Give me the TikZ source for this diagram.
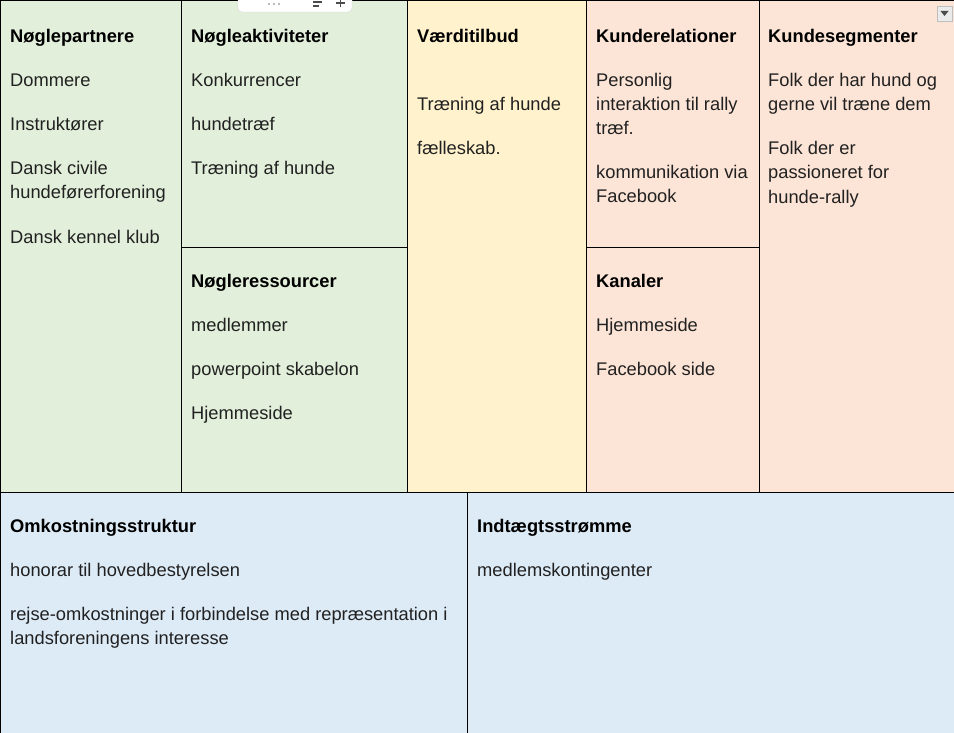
\documentclass[tikz,border=0pt]{standalone}
\usepackage{fontspec}
\setmainfont{Liberation Sans}
\definecolor{cgreen}{RGB}{226,239,218}
\definecolor{cyellow}{RGB}{255,242,204}
\definecolor{cpeach}{RGB}{252,228,214}
\definecolor{cblue}{RGB}{221,235,247}
\definecolor{ctext}{RGB}{33,33,33}
\tikzset{
  cell/.style={draw=black, line width=1pt},
  ttl/.style={anchor=base west, inner sep=0pt, font=\fontsize{18.3}{24}\selectfont\bfseries, text=black},
  itm/.style={anchor=base west, inner sep=0pt, font=\fontsize{18.3}{24}\selectfont, text=ctext},
}
\begin{document}
\begin{tikzpicture}[x=1pt,y=-1pt]
\useasboundingbox (0,0) rectangle (954,733);
% cells
\path[cell,fill=cgreen] (0,1) rectangle (181,492);
\path[cell,fill=cgreen] (181,1) rectangle (407,247);
\path[cell,fill=cgreen] (181,247) rectangle (407,492);
\path[cell,fill=cyellow] (407,1) rectangle (586,492);
\path[cell,fill=cpeach] (586,1) rectangle (759,247);
\path[cell,fill=cpeach] (586,247) rectangle (759,492);
\path[cell,fill=cpeach] (759,1) rectangle (955,492);
\path[cell,fill=cblue] (0,492) rectangle (467,734);
\path[cell,fill=cblue] (467,492) rectangle (955,734);
\begin{scope}[yshift=-1.5pt]
% column 1
\node[ttl] (t1) at (10,41) {Nøglepartnere};
\node[itm] (a1) at (10,85) {Dommere};
\node[itm] (a2) at (10,129) {Instruktører};
\node[itm] (a3) at (10,173) {Dansk civile};
\node[itm] (a3b) at (10,197) {hundeførerforening};
\node[itm] (a4) at (10,242) {Dansk kennel klub};
% column 2
\node[ttl] (t2) at (191,41) {Nøgleaktiviteter};
\node[itm] (b1) at (191,85) {Konkurrencer};
\node[itm] (b2) at (191,129) {hundetræf};
\node[itm] (b3) at (191,173) {Træning af hunde};
\node[ttl] (t3) at (191,286) {Nøgleressourcer};
\node[itm] (c1) at (191,330) {medlemmer};
\node[itm] (c2) at (191,374) {powerpoint skabelon};
\node[itm] (c3) at (191,418) {Hjemmeside};
% column 3
\node[ttl] (t4) at (417,41) {Værditilbud};
\node[itm] (d1) at (417,109) {Træning af hunde};
\node[itm] (d2) at (417,153) {fælleskab.};
% column 4
\node[ttl] (t5) at (596,41) {Kunderelationer};
\node[itm] (e1) at (596,85) {Personlig};
\node[itm] (e1b) at (596,109) {interaktion til rally};
\node[itm] (e1c) at (596,133) {træf.};
\node[itm] (e2) at (596,177) {kommunikation via};
\node[itm] (e2b) at (596,201) {Facebook};
\node[ttl] (t6) at (596,286) {Kanaler};
\node[itm] (f1) at (596,330) {Hjemmeside};
\node[itm] (f2) at (596,374) {Facebook side};
% column 5
\node[ttl] (t7) at (768,41) {Kundesegmenter};
\node[itm] (g1) at (768,85) {Folk der har hund og};
\node[itm] (g1b) at (768,109) {gerne vil træne dem};
\node[itm] (g2) at (768,153) {Folk der er};
\node[itm] (g2b) at (768,177) {passioneret for};
\node[itm] (g2c) at (768,202) {hunde-rally};
% bottom
\node[ttl] (t8) at (10,531) {Omkostningsstruktur};
\node[itm] (h1) at (10,575) {honorar til hovedbestyrelsen};
\node[itm] (h2) at (10,619) {rejse-omkostninger i forbindelse med repræsentation i};
\node[itm] (h2b) at (10,643) {landsforeningens interesse};
\node[ttl] (t9) at (477,531) {Indtægtsstrømme};
\node[itm] (i1) at (477,575) {medlemskontingenter};
\end{scope}
% toolbar overlay
\path[draw=black!15, fill=white, rounded corners=4pt] (238,-6) rectangle (352,12);
\foreach \xx in {269,274,279} \fill[black!35] (\xx,4) circle (1.1pt);
\draw[black!70, line width=1.2pt] (313,2) -- (322,2);
\draw[black!70, line width=1.2pt] (313,6) -- (319,6);
\draw[black!70, line width=1.2pt] (336,3) -- (345,3);
\draw[black!70, line width=1.2pt] (340.5,-1) -- (340.5,7);
% dropdown icon
\path[draw=black!25, fill=black!8] (937,6) rectangle (952,21);
\fill[black!70] (940.5,11) -- (948.5,11) -- (944.5,16) -- cycle;
\end{tikzpicture}
\end{document}
